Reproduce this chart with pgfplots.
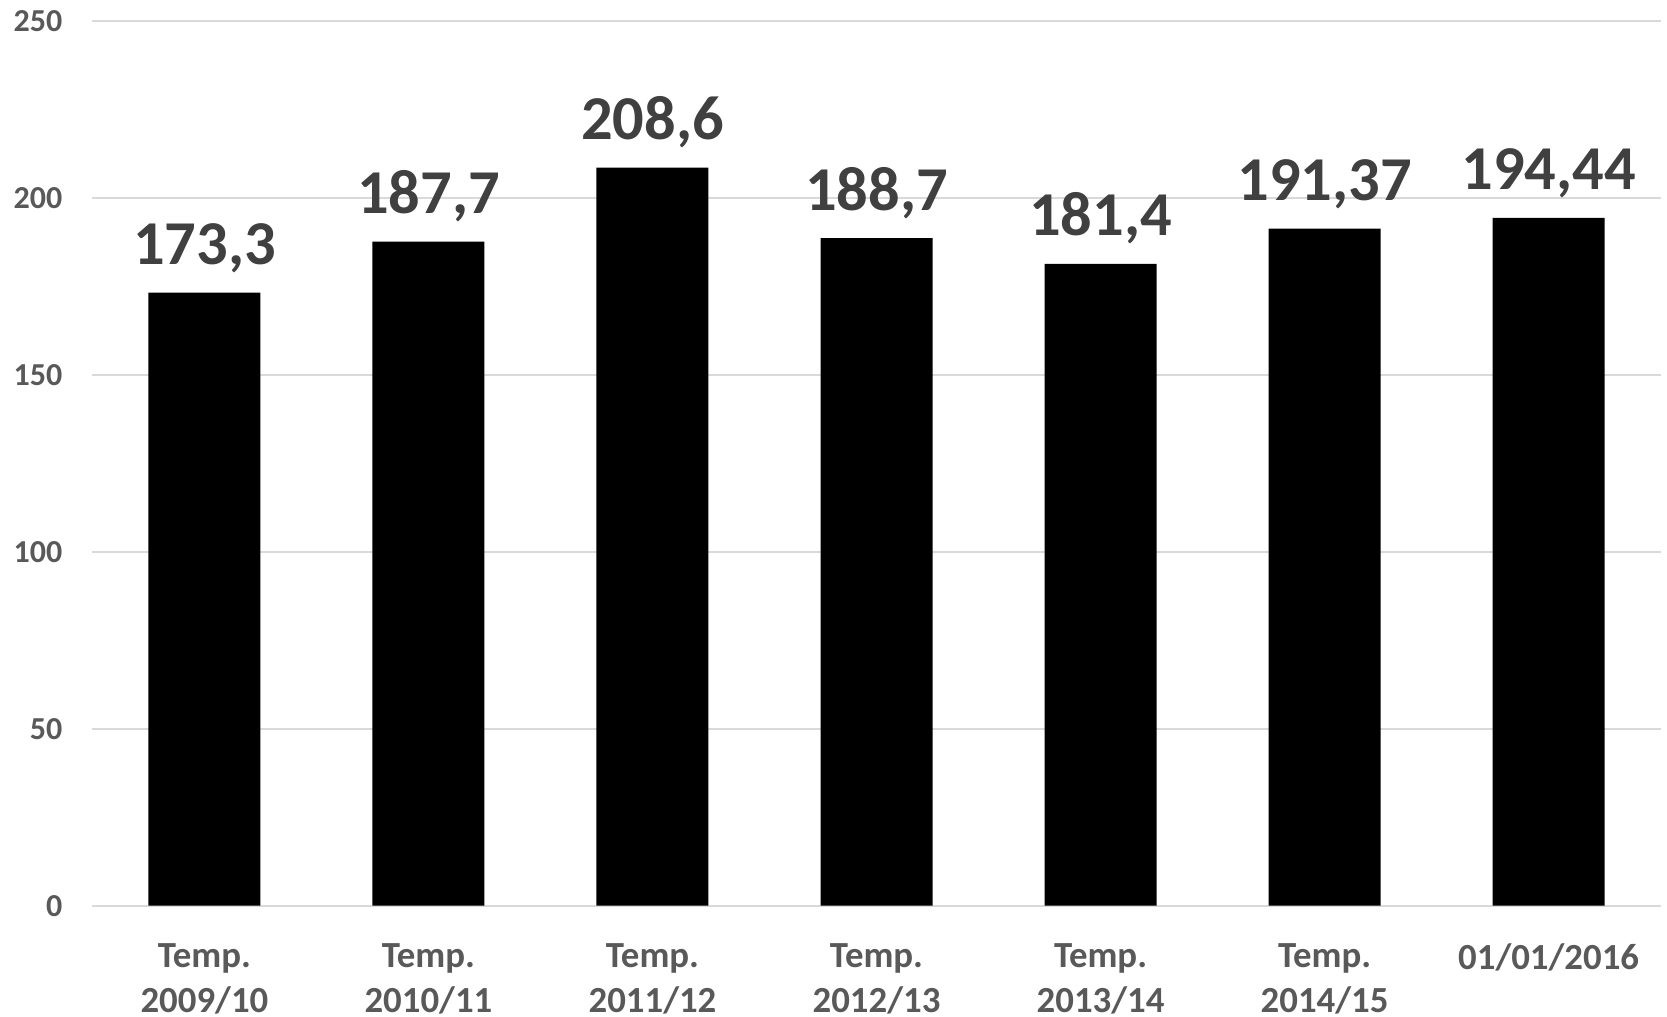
\documentclass[border=0pt]{standalone}
\usepackage{pgfplots}
\pgfplotsset{compat=1.18}
\usepackage{fontspec}
\setmainfont{Carlito}
\definecolor{ticklab}{HTML}{595959}
\definecolor{datalab}{HTML}{404040}
\definecolor{gridc}{HTML}{D9D9D9}
\pgfplotstableread{
x y lab
0 173.3 173,3
1 187.7 187,7
2 208.6 208,6
3 188.7 188,7
4 181.4 181,4
5 191.37 191,37
6 194.44 194,44
}\datatable
\begin{document}
\begin{tikzpicture}
\begin{axis}[
  at={(0,0)}, anchor=south west,
  scale only axis, width=392pt, height=221.1pt,
  xmin=-0.5, xmax=6.5, ymin=0, ymax=250,
  ytick={0,50,100,150,200,250},
  xtick={0,1,2,3,4,5,6},
  xticklabels={{Temp.\\2009/10},{Temp.\\2010/11},{Temp.\\2011/12},{Temp.\\2012/13},{Temp.\\2013/14},{Temp.\\2014/15},{01/01/2016}},
  axis line style={draw=none},
  ymajorgrids, grid style={draw=gridc, line width=0.5pt},
  major tick length=0pt,
  /pgf/number format/assume math mode=true,
  yticklabel style={font=\fontsize{8}{9.6}\selectfont\bfseries, text=ticklab, xshift=-4pt},
  xticklabel style={font=\fontsize{9.2}{11.2}\selectfont\bfseries, text=ticklab, align=center, yshift=-6pt},
  clip=false,
]
\addplot[ybar, bar width=28pt, fill=black, draw=none,
  point meta=explicit symbolic, nodes near coords,
  nodes near coords style={anchor=base, yshift=7pt, font=\fontsize{15.6}{18}\selectfont\bfseries, text=datalab}]
  table[x=x, y=y, meta=lab] {\datatable};
\end{axis}
\pgfresetboundingbox
\path[use as bounding box] (-23.1pt,-27.8pt) rectangle (393.6pt,226.4pt);
\end{tikzpicture}
\end{document}
